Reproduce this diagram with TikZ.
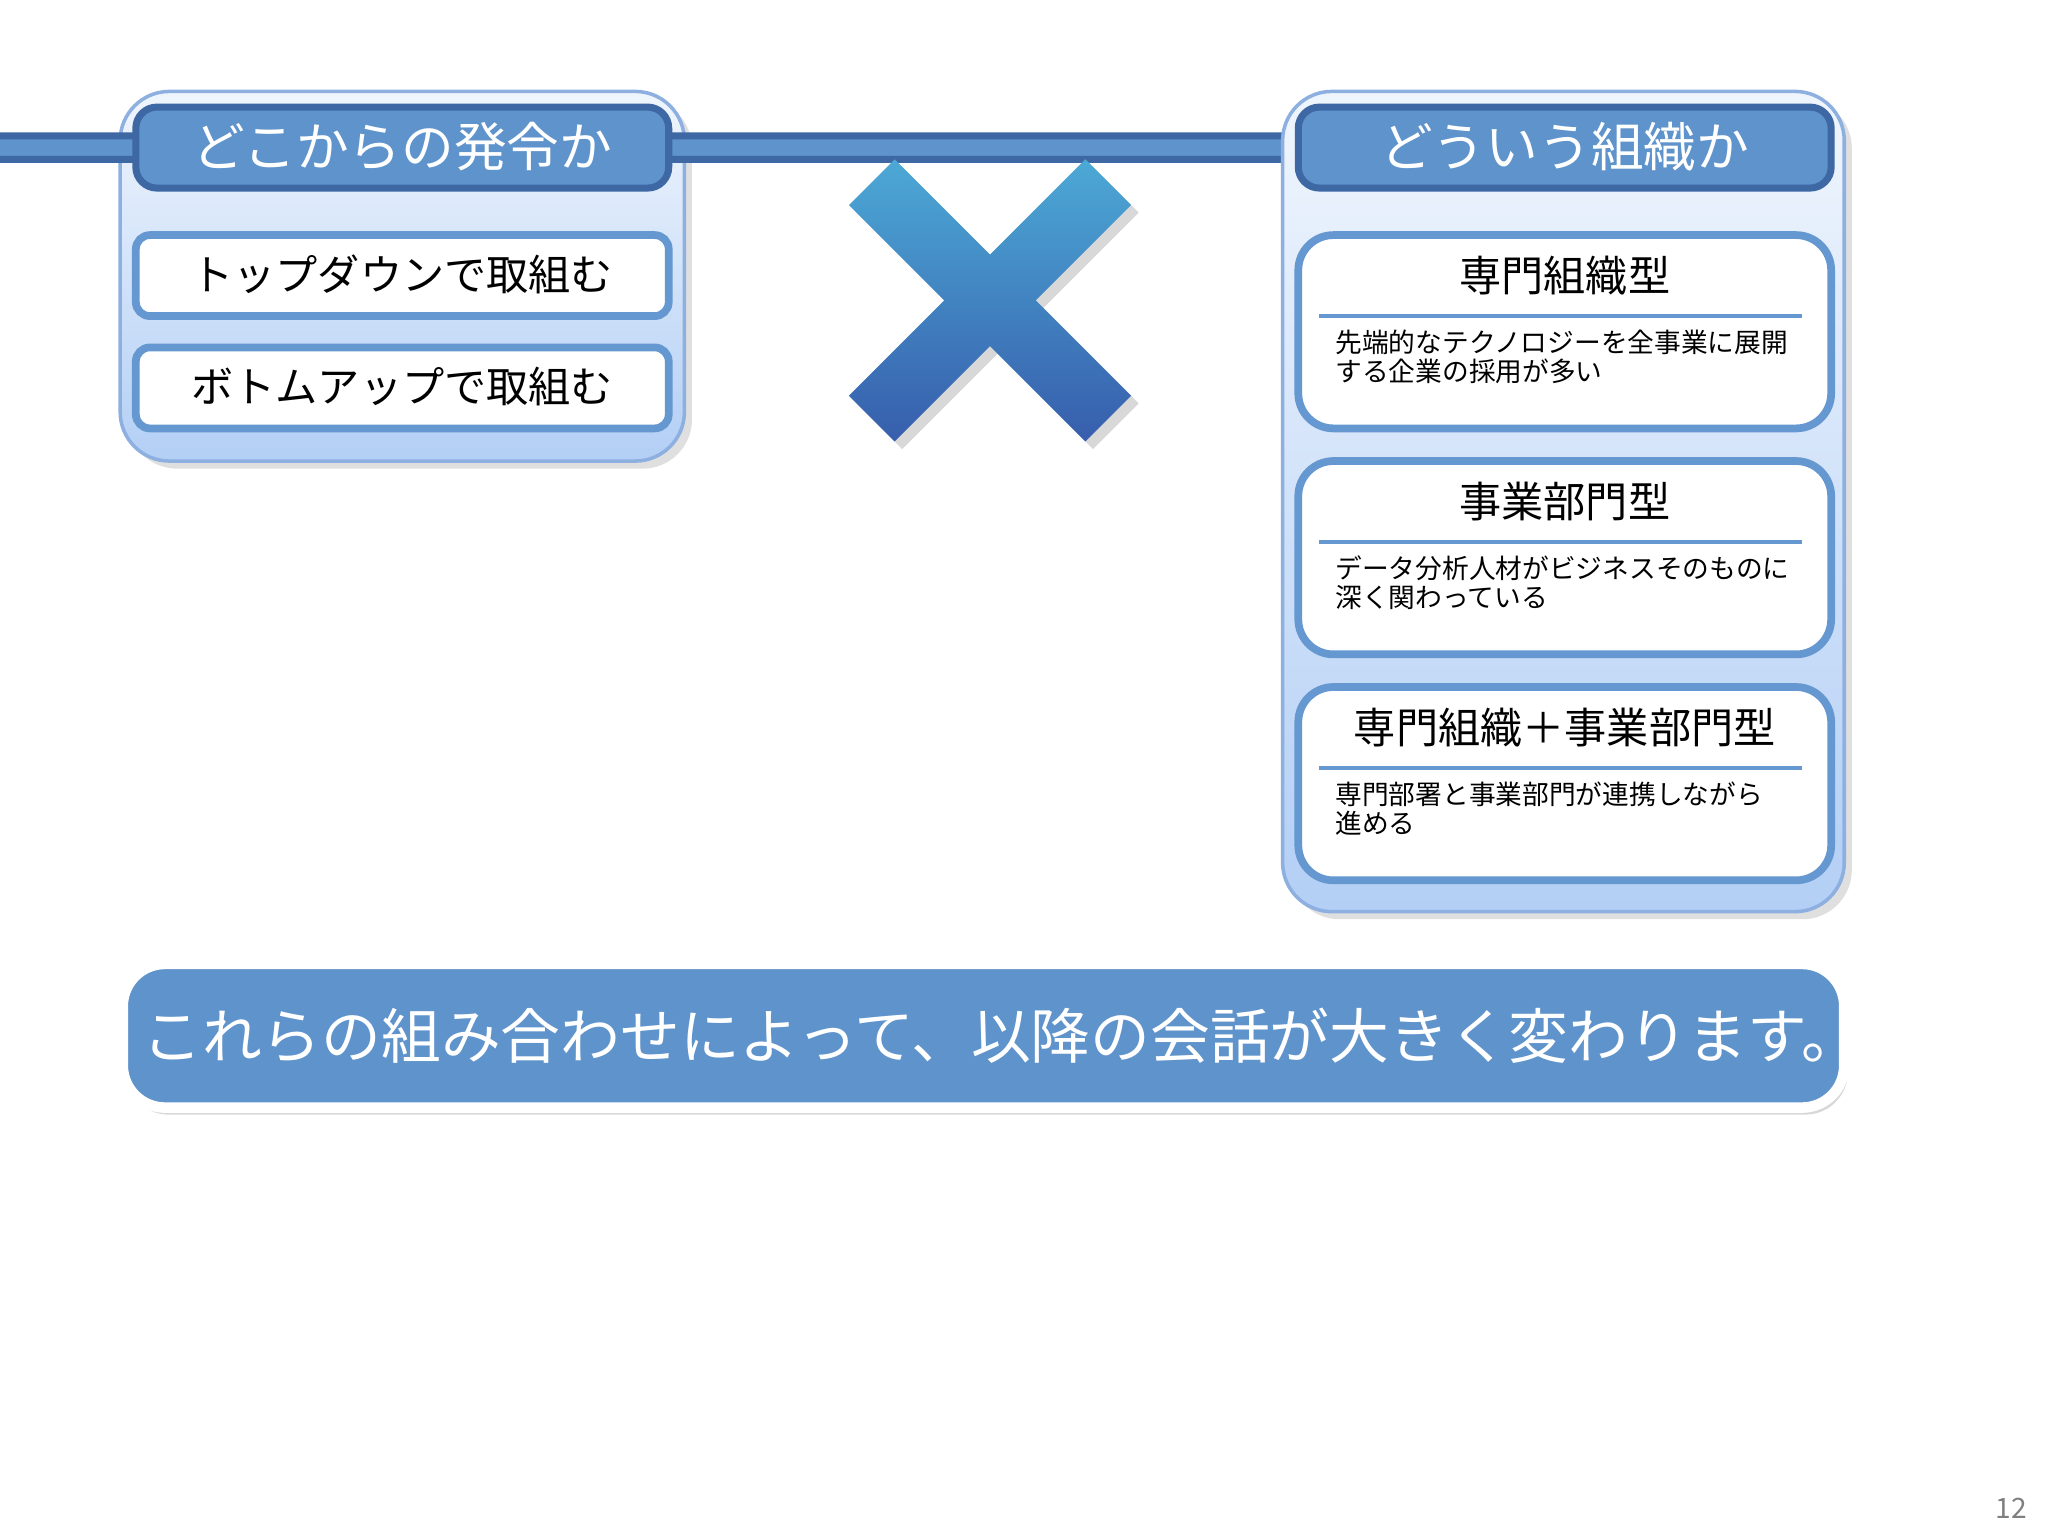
\documentclass[tikz,border=0pt]{standalone}
\usepackage{fontspec}
\newfontfamily\jp{Noto Sans CJK JP}
\usetikzlibrary{shadows}
\definecolor{hdr}{HTML}{5F93CB}
\definecolor{hdrb}{HTML}{3D68A3}
\definecolor{pnl}{HTML}{B3CFF5}
\definecolor{pnlb}{HTML}{8DB0E0}
\definecolor{crd}{HTML}{6597D0}
\begin{document}
\begin{tikzpicture}[x=0.01306cm,y=-0.01306cm,font=\jp,
 panel/.style={draw=pnlb,line width=1pt,rounded corners=14pt,top color=white!80!pnl,bottom color=pnl,drop shadow={opacity=0.25}},
 hdrbox/.style={draw=hdrb,line width=2pt,rounded corners=6pt,fill=hdr,text=white,font=\jp\fontsize{15}{17}\selectfont},
 optbox/.style={draw=crd,line width=2.2pt,rounded corners=4pt,fill=white,font=\jp\fontsize{12}{14}\selectfont},
 card/.style={draw=crd,line width=2.2pt,rounded corners=10pt,fill=white},
 ttl/.style={font=\jp\fontsize{12}{14}\selectfont},
 desc/.style={font=\jp\fontsize{7.6}{8.2}\selectfont,anchor=north west,align=left}]
\useasboundingbox (0,0) rectangle (1568,1176);
\fill[white] (0,0) rectangle (1568,1176);
% left panel
\draw[panel] (92,70) rectangle (524,353);
\node[hdrbox,minimum width=408\pgflinewidth] (lh) at (308,113) {};
\draw[hdrbox] (104,82) rectangle (512,144);
\node[text=white,font=\jp\fontsize{15}{17}\selectfont] (lht) at (308,112) {どこからの発令か};
\draw[optbox] (104,180) rectangle (512,242);
\node[font=\jp\fontsize{12}{14}\selectfont] (o1) at (308,210) {トップダウンで取組む};
\draw[optbox] (104,266) rectangle (512,328);
\node[font=\jp\fontsize{12}{14}\selectfont] (o2) at (308,296) {ボトムアップで取組む};
% cross
\begin{scope}[drop shadow={opacity=0.3}]
\shade[top color=hdr!80!cyan,bottom color=hdrb!90!blue,drop shadow={opacity=0.3}]
 (650,157)--(685,122)--(758,195)--(831,122)--(866,157)--(793,230)--(866,303)--(831,338)--(758,265)--(685,338)--(650,303)--(723,230)--cycle;
\end{scope}
% right panel
\draw[panel] (982,70) rectangle (1412,698);
\draw[hdrbox] (994,82) rectangle (1402,144);
\node[text=white,font=\jp\fontsize{15}{17}\selectfont] (rht) at (1198,112) {どういう組織か};
\foreach \y/\t/\a/\b [count=\i] in {180/専門組織型/先端的なテクノロジーを全事業に展開/する企業の採用が多い,
 353/事業部門型/データ分析人材がビジネスそのものに/深く関わっている,
 526/専門組織＋事業部門型/専門部署と事業部門が連携しながら/進める}{
 \draw[card] (994,\y) rectangle (1402,\y+148);
 \node[ttl] (t\i) at (1198,\y+31) {\t};
 \draw[crd,line width=1pt] (1010,\y+62) -- (1380,\y+62);
 \node[desc,inner sep=0pt] (d\i) at (1022,\y+72) {\a\\\b};
}
% banner
\draw[white,line width=3pt,fill=hdr,rounded corners=12pt,drop shadow={opacity=0.3,shadow xshift=1pt,shadow yshift=-2pt}] (94,738) rectangle (1412,848);
\node[text=white,font=\jp\fontsize{17}{20}\selectfont] (bn) at (767,793) {これらの組み合わせによって、以降の会話が大きく変わります。};
\node[text=gray,font=\jp\fontsize{8}{9}\selectfont] (pg) at (1540,1155) {12};
\end{tikzpicture}
\end{document}
